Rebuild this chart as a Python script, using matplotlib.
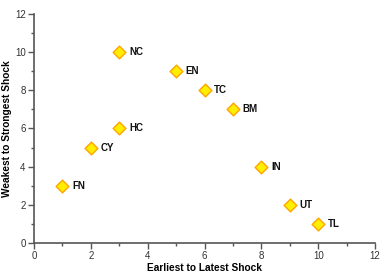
import matplotlib
matplotlib.use("Agg")
import matplotlib.pyplot as plt
from matplotlib.ticker import MultipleLocator

plt.rcParams['font.family'] = ['Liberation Sans', 'DejaVu Sans']

labels = ["FN", "CY", "HC", "NC", "EN", "TC", "BM", "IN", "UT", "TL"]
timing = [1, 2, 3, 3, 5, 6, 7, 8, 9, 10]
strength = [3, 5, 6, 10, 9, 8, 7, 4, 2, 1]

fig = plt.figure(figsize=(3.82, 2.73), dpi=100)
ax = fig.add_axes([0.089, 0.110, 0.893, 0.839])

ax.scatter(timing, strength, marker="D", s=42, facecolor="#ffee00",
           edgecolor="#ffa500", linewidth=1.0, zorder=3)
for x, y, name in zip(timing, strength, labels):
    ax.annotate(name, (x, y), xytext=(7, 0), textcoords="offset points",
                ha="left", va="center", fontsize=7, fontweight="bold", color="#111111")

ax.set_xlim(0, 12)
ax.set_ylim(0, 12)
ax.xaxis.set_major_locator(MultipleLocator(2))
ax.xaxis.set_minor_locator(MultipleLocator(1))
ax.yaxis.set_major_locator(MultipleLocator(2))
ax.yaxis.set_minor_locator(MultipleLocator(1))

for side in ["top", "right"]:
    ax.spines[side].set_visible(False)
for side in ["left", "bottom"]:
    ax.spines[side].set_color("#555555")
    ax.spines[side].set_linewidth(1.2)

ax.tick_params(which="major", direction="out", length=4, width=1, color="#555555",
               labelsize=7, labelcolor="#333333", pad=2)
ax.tick_params(which="minor", direction="out", length=2.5, width=1, color="#555555")

ax.set_xlabel("Earliest to Latest Shock", fontsize=7.3, fontweight="bold", labelpad=1)
ax.set_ylabel("Weakest to Strongest Shock", fontsize=7.3, fontweight="bold", labelpad=2)

fig.savefig("out.png", dpi=100)
